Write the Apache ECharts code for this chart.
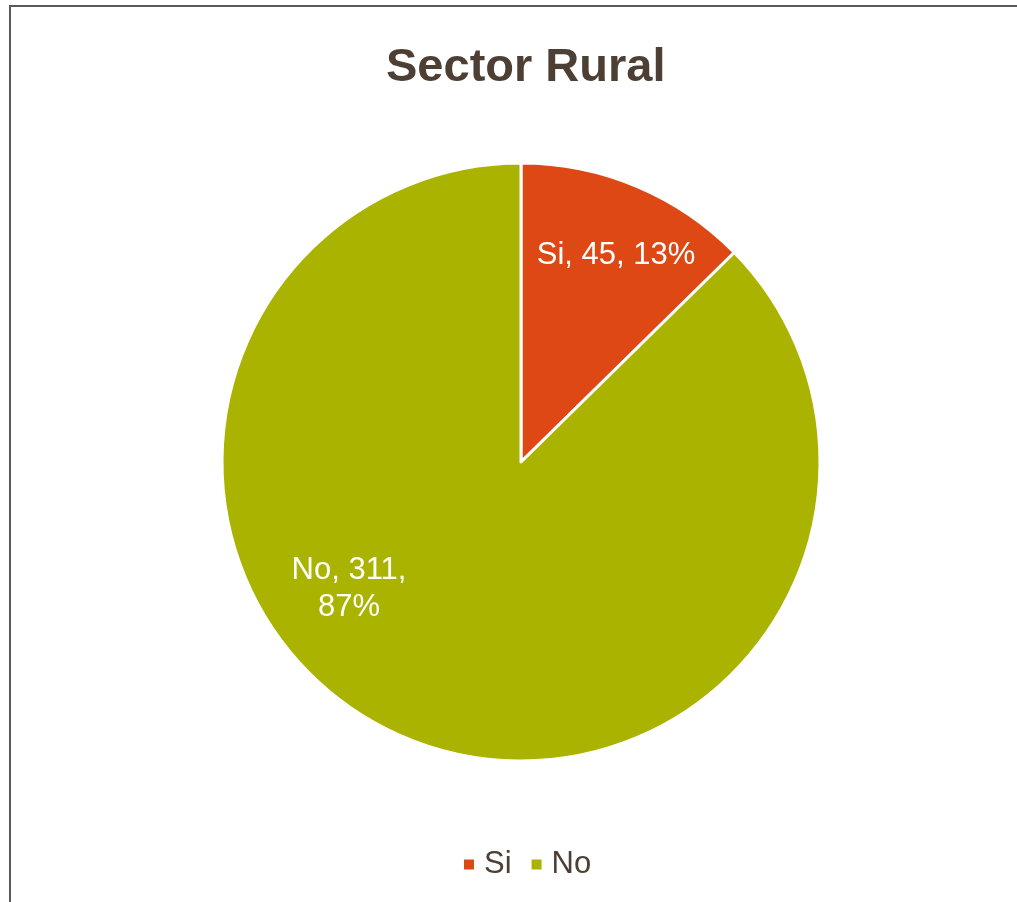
<!DOCTYPE html>
<html>
<head>
<meta charset="utf-8">
<script src="https://cdn.jsdelivr.net/npm/echarts@6/dist/echarts.min.js"></script>
<style>
html,body{margin:0;padding:0;background:#fff;}
#chart{width:1017px;height:902px;}
</style>
</head>
<body>
<div id="chart"></div>
<script>
const titleText = 'Sector Rural';
const categories = ['Si', 'No'];
const values = [45, 311];
const colors = ['#DD4814', '#AAB400'];

const labelFormats = ['{b}, {c}, {d}%', '{b}, {c},\n{d}%'];
const labelOffsets = [[36, -66], [-113, -14]];

const chart = echarts.init(document.getElementById('chart'));
const font = '"Liberation Sans", Arial, sans-serif';
chart.setOption({
  animation: false,
  backgroundColor: '#ffffff',
  graphic: [{
    type: 'rect', silent: true,
    shape: {x: 10, y: 6, width: 1200, height: 1200},
    style: {fill: 'none', stroke: '#595959', lineWidth: 2}
  }],
  title: {
    text: titleText,
    left: 386, top: 45,
    padding: 0,
    textStyle: {fontFamily: font, fontSize: 47, fontWeight: 'bold', color: '#4D3F33'}
  },
  legend: {
    data: categories,
    left: 462, top: 849,
    padding: 0,
    itemWidth: 12, itemHeight: 12, itemGap: 18,
    icon: 'rect',
    textStyle: {fontFamily: font, fontSize: 31, color: '#4D3F33', padding: [0, 0, 0, 4]},
    selectedMode: false
  },
  series: [{
    type: 'pie',
    center: [521, 462],
    radius: [0, 299],
    startAngle: 90,
    clockwise: true,
    percentPrecision: 0,
    avoidLabelOverlap: false,
    emphasis: {disabled: true},
    itemStyle: {borderColor: '#ffffff', borderWidth: 3},
    labelLine: {show: false},
    data: categories.map((c, i) => ({
      name: c,
      value: values[i],
      itemStyle: {color: colors[i]},
      label: {
        show: true,
        position: 'inside',
        formatter: labelFormats[i],
        offset: labelOffsets[i],
        fontFamily: font,
        fontSize: 31,
        lineHeight: 37,
        color: '#ffffff',
        align: 'center'
      }
    }))
  }]
});
</script>
</body>
</html>
